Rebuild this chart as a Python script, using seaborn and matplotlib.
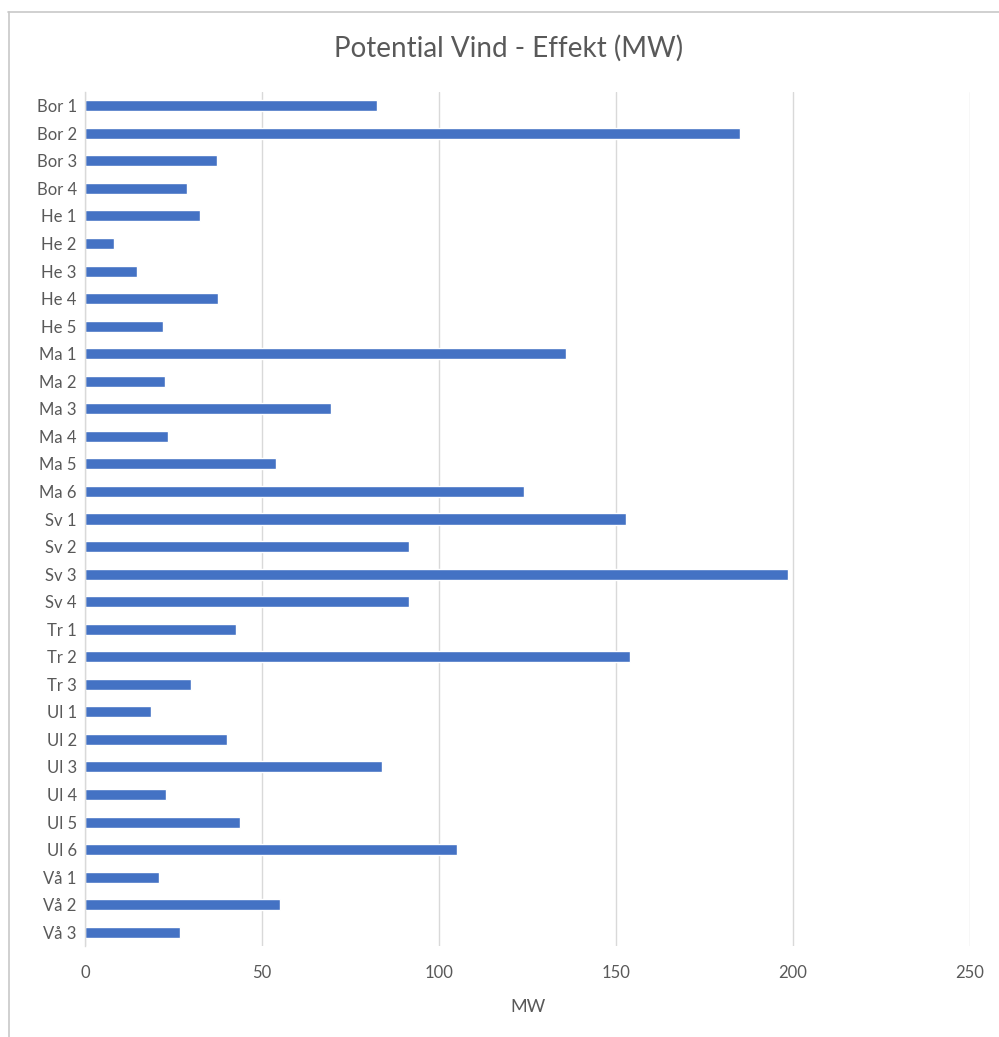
import matplotlib
matplotlib.use("Agg")
import matplotlib.pyplot as plt
import seaborn as sns
import pandas as pd
from matplotlib.lines import Line2D

categories = ["Bor 1", "Bor 2", "Bor 3", "Bor 4", "He 1", "He 2", "He 3", "He 4", "He 5",
              "Ma 1", "Ma 2", "Ma 3", "Ma 4", "Ma 5", "Ma 6", "Sv 1", "Sv 2", "Sv 3", "Sv 4",
              "Tr 1", "Tr 2", "Tr 3", "Ul 1", "Ul 2", "Ul 3", "Ul 4", "Ul 5", "Ul 6",
              "Vå 1", "Vå 2", "Vå 3"]
values = [82.5, 185, 37.3, 28.8, 32.5, 8.2, 14.7, 37.6, 22, 135.9, 22.6, 69.5, 23.4, 54,
          124, 152.8, 91.5, 198.6, 91.5, 42.7, 154, 30, 18.6, 40, 84, 22.9, 43.8, 105,
          20.9, 55, 26.8]
xticks = [0, 50, 100, 150, 200, 250]

sns.set_theme(style="white")
plt.rcParams['font.family'] = ['Lato', 'DejaVu Sans']

df = pd.DataFrame({"cat": categories, "val": values})

fig = plt.figure(figsize=(9.99, 10.37), dpi=100)
ax = fig.add_axes([85/999, 1 - 946/1037, (970-85)/999, (946-92)/1037])
sns.barplot(data=df, y="cat", x="val", orient="h", color="#4472C4", width=0.4,
            saturation=1, ax=ax)
ax.set_xlim(0, 250)
ax.set_xticks(xticks)
ax.set_xticklabels([str(t) for t in xticks])
ax.grid(axis="x", color="#d9d9d9", linewidth=1)
ax.set_axisbelow(True)
for s in ["top", "right", "bottom"]:
    ax.spines[s].set_visible(False)
ax.spines["left"].set_color("#d9d9d9")
ax.spines["left"].set_linewidth(1)
ax.tick_params(axis="both", length=0, labelsize=12, colors="#595959")
ax.tick_params(axis="x", pad=14)
ax.tick_params(axis="y", pad=6)
ax.set_ylabel("")
ax.set_xlabel("MW", fontsize=13, color="#595959", labelpad=13)
fig.text(509/999, 1 - 48/1037, "Potential Vind - Effekt (MW)", ha="center", va="center",
         fontsize=20, color="#595959")
# chart frame (top and left edges visible in the reference)
fig.add_artist(Line2D([8/999, 1.0], [1 - 11.5/1037, 1 - 11.5/1037], transform=fig.transFigure,
                      color="#c8c8c8", linewidth=1.2))
fig.add_artist(Line2D([8.5/999, 8.5/999], [1 - 11.5/1037, 0.0], transform=fig.transFigure,
                      color="#c8c8c8", linewidth=1.2))
fig.savefig("out.png", dpi=100)
